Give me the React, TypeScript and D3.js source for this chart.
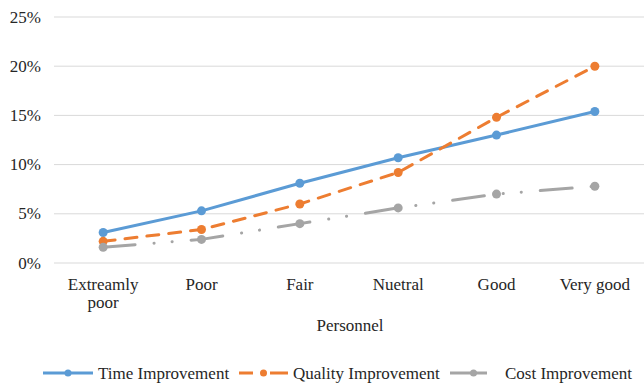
import React from "react";
import * as d3 from "d3";

const categories = ["Extreamly poor", "Poor", "Fair", "Nuetral", "Good", "Very good"];
const timeImprovement = [3.1, 5.3, 8.1, 10.7, 13.0, 15.4];
const qualityImprovement = [2.2, 3.4, 6.0, 9.2, 14.8, 20.0];
const costImprovement = [1.6, 2.4, 4.0, 5.6, 7.0, 7.8];
const yTicks = [0, 5, 10, 15, 20, 25];

const W = 644;
const H = 383;
const plot = { left: 54, right: 644, top: 17, bottom: 263 };
const FONT = "'Liberation Serif', 'Times New Roman', serif";
const FS = 17;
const TEXT = "#262626";

const seriesList = [
  { name: "Time Improvement", values: timeImprovement, color: "#5b9bd5", dash: "none" },
  { name: "Quality Improvement", values: qualityImprovement, color: "#ed7d31", dash: "12 10" },
  { name: "Cost Improvement", values: costImprovement, color: "#a5a5a5", dash: "32 19 0.1 18 0.1 19" },
];

export default function App() {
  const x = d3.scaleBand<string>().domain(categories).range([plot.left, plot.right]);
  const y = d3.scaleLinear().domain([0, 25]).range([plot.bottom, plot.top]);
  const cx = (c: string) => (x(c) ?? 0) + x.bandwidth() / 2;
  const line = d3
    .line<number>()
    .x((_, i) => cx(categories[i]))
    .y((v) => y(v));

  const legendY = 373;
  const legend = [
    { x1: 43, x2: 93, tx: 98, dash: "none" },
    { x1: 239, x2: 288, tx: 293, dash: "14 17 18" },
    { x1: 450, x2: 487, tx: 505, dash: "none" },
  ];

  return (
    <svg width={W} height={H} style={{ position: "absolute", left: 0, top: 0, background: "#fff" }}>
      {yTicks.map((t) => (
        <g key={t}>
          <line x1={plot.left} x2={plot.right} y1={y(t)} y2={y(t)} stroke="#d9d9d9" strokeWidth={1} />
          <text x={41} y={y(t)} dy="0.33em" textAnchor="end" fontFamily={FONT} fontSize={FS} fill={TEXT}>
            {t}%
          </text>
        </g>
      ))}
      {categories.map((c) => {
        const words = c === "Extreamly poor" ? ["Extreamly", "poor"] : [c];
        return (
          <text key={c} x={cx(c)} y={290} textAnchor="middle" fontFamily={FONT} fontSize={FS} fill={TEXT}>
            {words.map((w, i) => (
              <tspan key={w} x={cx(c)} dy={i === 0 ? 0 : 18}>
                {w}
              </tspan>
            ))}
          </text>
        );
      })}
      <text x={350} y={331} textAnchor="middle" fontFamily={FONT} fontSize={FS} fill={TEXT}>
        Personnel
      </text>
      {seriesList.map((s) => (
        <g key={s.name}>
          <path d={line(s.values) ?? ""} fill="none" stroke={s.color} strokeWidth={3} strokeDasharray={s.dash} strokeLinecap="round" />
          {s.values.map((v, i) => (
            <circle key={i} cx={cx(categories[i])} cy={y(v)} r={4.5} fill={s.color} />
          ))}
        </g>
      ))}
      {seriesList.map((s, i) => {
        const l = legend[i];
        return (
          <g key={s.name}>
            <line x1={l.x1} x2={l.x2} y1={legendY} y2={legendY} stroke={s.color} strokeWidth={3} strokeDasharray={l.dash} />
            <circle cx={(l.x1 + l.x2) / 2 + (i === 2 ? 5 : 0)} cy={legendY} r={3.5} fill={s.color} />
            <text x={l.tx} y={378.5} fontFamily={FONT} fontSize={FS} fill={TEXT}>
              {s.name}
            </text>
          </g>
        );
      })}
    </svg>
  );
}
